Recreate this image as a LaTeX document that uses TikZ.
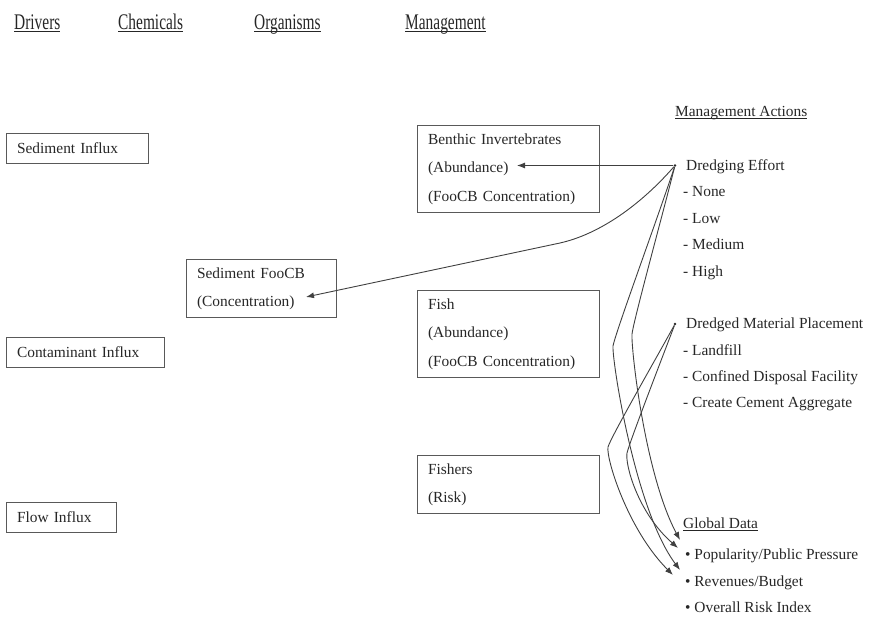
\documentclass[tikz,border=0pt]{standalone}
\usepackage{fontspec}
\setmainfont{Liberation Serif}
\usetikzlibrary{arrows.meta}
% underline at a fixed depth below the baseline
\newsavebox\ulinebox
\newcommand\ulfixed[1]{\sbox\ulinebox{#1}\rlap{\rule[-2.4pt]{\wd\ulinebox}{0.9pt}}\usebox\ulinebox}
% tall, narrow column headings
\newcommand\tallhead[1]{\ulfixed{\scalebox{1}[1.45]{#1}}}
\begin{document}
\begin{tikzpicture}[x=1pt,y=-1pt,
  every node/.style={text=black!85, font=\fontsize{15.4}{28.5}\selectfont},
  txt/.style={anchor=base west, inner sep=0pt},
  box/.style={draw=black!65, line width=1.1pt, anchor=north west, align=left,
    inner xsep=10.5pt, inner ysep=0pt},
  dotn/.style={circle, fill=black!85, inner sep=0pt, minimum size=2.8pt},
  conn/.style={draw=black!75, line width=0.9pt, -{Latex[length=8pt,width=6pt]}}]
\useasboundingbox (0,0) rectangle (871,618);

% column headings
\node[txt] (hdrv) at (14,30) {\tallhead{Drivers}};
\node[txt] (hchem) at (118,30) {\tallhead{Chemicals}};
\node[txt] (horg) at (254,30) {\tallhead{Organisms}};
\node[txt] (hman) at (405,30) {\tallhead{Management}};

% drivers
\node[box, minimum width=142pt, minimum height=30pt, text width=121pt] (si) at (6,133) {Sediment Influx};
\node[box, minimum width=158pt, minimum height=30pt, text width=137pt] (ci) at (6,337) {Contaminant Influx};
\node[box, minimum width=110pt, minimum height=30pt, text width=89pt] (fi) at (6,502) {Flow Influx};

% chemicals
\node[box, minimum width=150pt, minimum height=58pt, text width=129pt] (sf) at (186,259) {Sediment FooCB\\(Concentration)};

% organisms
\node[box, minimum width=182pt, minimum height=87pt, text width=161pt] (bi) at (417,125) {Benthic Invertebrates\\(Abundance)\\(FooCB Concentration)};
\node[box, minimum width=182pt, minimum height=87pt, text width=161pt] (fish) at (417,290) {Fish\\(Abundance)\\(FooCB Concentration)};
\node[box, minimum width=182pt, minimum height=58pt, text width=161pt] (fishers) at (417,455) {Fishers\\(Risk)};

% management actions
\node[txt] (ma) at (675,117) {\ulfixed{Management Actions}};
\node[dotn] (deb) at (675,165.5) {};
\node[txt] (de) at (686,170) {Dredging Effort};
\node[txt] (de1) at (683,196.5) {- None};
\node[txt] (de2) at (683,223) {- Low};
\node[txt] (de3) at (683,249.5) {- Medium};
\node[txt] (de4) at (683,276) {- High};
\node[dotn] (dmb) at (675,324) {};
\node[txt] (dm) at (686,328.5) {Dredged Material Placement};
\node[txt] (dm1) at (683,355.5) {- Landfill};
\node[txt] (dm2) at (683,381.5) {- Confined Disposal Facility};
\node[txt] (dm3) at (683,407.5) {- Create Cement Aggregate};

% global data
\node[txt] (gd) at (683,528) {\ulfixed{Global Data}};
\node[txt] (gd1) at (685,559.5) {\textbullet\ Popularity/Public Pressure};
\node[txt] (gd2) at (685,586) {\textbullet\ Revenues/Budget};
\node[txt] (gd3) at (685,612) {\textbullet\ Overall Risk Index};

% arrow end points and bends
\coordinate (biab) at (517,165.5);
\coordinate (sfc) at (306,297);
\coordinate (a2m) at (560,243);
\coordinate (bd1) at (613,346);
\coordinate (bd2) at (632,334);
\coordinate (bp1) at (608,447);
\coordinate (bp2) at (627,453);
\coordinate (gp1) at (680,540);
\coordinate (gp2) at (678,548);
\coordinate (gr1) at (680,570);
\coordinate (gr2) at (673,575);

% connectors
\draw[conn] (deb) -- (biab);
\draw[conn] (deb) .. controls +(-34,39) and +(40,-9) .. (a2m) -- (sfc);
\draw[conn] (deb) .. controls +(-20,60) and +(3,-15) .. (bd1) .. controls +(-1,15) and +(-45,-60) .. (gr1);
\draw[conn] (deb) .. controls +(-14,55) and +(2,-15) .. (bd2) .. controls +(-1,15) and +(-35,-65) .. (gp1);
\draw[conn] (dmb) .. controls +(-22,40) and +(4,-12) .. (bp1) .. controls +(-2,12) and +(-45,-45) .. (gr2);
\draw[conn] (dmb) .. controls +(-16,42) and +(3,-12) .. (bp2) .. controls +(-2,12) and +(-40,-35) .. (gp2);
\end{tikzpicture}
\end{document}
